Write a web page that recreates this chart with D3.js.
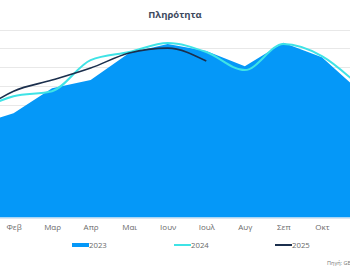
<!DOCTYPE html>
<html>
<head>
<meta charset="utf-8">
<script src="https://cdn.jsdelivr.net/npm/d3@7"></script>
<style>
  body { margin: 0; background: #fff; overflow: hidden; }
  svg { display: block; font-family: "Open Sans", "DejaVu Sans", sans-serif; }
</style>
</head>
<body>
<svg id="chart" width="350" height="274"></svg>
<script>
// months (chart is cropped: Ιαν, Νοε, Δεκ fall outside the window)
var months = ['Ιαν', 'Φεβ', 'Μαρ', 'Απρ', 'Μαι', 'Ιουν', 'Ιουλ', 'Αυγ', 'Σεπ', 'Οκτ', 'Νοε', 'Δεκ'];
// occupancy %
var occ2023 = [49.1, 55.5, 68.8, 73.1, 87.5, 92.3, 88.5, 80.5, 93.0, 85.3, 66.7, 46.4];
var occ2024 = [56.0, 64.5, 67.2, 83.7, 88.0, 92.8, 88.0, 78.4, 92.3, 85.9, 69.5, 49.0];
var occ2025 = [54.9, 67.2, 73.1, 79.5, 87.5, 90.1, 83.2];
var yTicks = [0, 10, 20, 30, 40, 50, 60, 70, 80, 90, 100];
var legendItems = ['2023', '2024', '2025'];

var svg = d3.select('#chart');
var colors = {'2023': '#0598f8', '2024': '#3fe3e6', '2025': '#1b2f4d'};

// month spacing ~38.5px, Φεβ sits at x=14
var x = d3.scalePoint().domain(months).range([-25, 399]);
var y = d3.scaleLinear().domain([0, 100]).range([217.5, 29.5]);

svg.append('text')
  .attr('x', 175).attr('y', 18)
  .attr('text-anchor', 'middle')
  .style('font-size', '9.5px').style('font-weight', 'bold')
  .style('fill', '#3e4a5e')
  .text('Πληρότητα');

// grid
svg.append('g').selectAll('line')
  .data(yTicks).enter().append('line')
  .attr('x1', 0).attr('x2', 350)
  .attr('y1', function(d) { return Math.round(y(d)) + 0.5; })
  .attr('y2', function(d) { return Math.round(y(d)) + 0.5; })
  .style('stroke', '#e8e8e8').style('stroke-width', 1);

var area = d3.area()
  .x(function(d, i) { return x(months[i]); })
  .y0(y(0))
  .y1(function(d) { return y(d); });

svg.append('path')
  .datum(occ2023)
  .attr('d', area)
  .style('fill', colors['2023']);

// baseline
svg.append('line')
  .attr('x1', 0).attr('x2', 350)
  .attr('y1', 218).attr('y2', 218)
  .style('stroke', '#cfe3f5').style('stroke-width', 1);

var line = d3.line()
  .x(function(d, i) { return x(months[i]); })
  .y(function(d) { return y(d); })
  .curve(d3.curveMonotoneX);

svg.append('path')
  .datum(occ2024)
  .attr('d', line)
  .style('fill', 'none').style('stroke', colors['2024']).style('stroke-width', 2);

svg.append('path')
  .datum(occ2025)
  .attr('d', line)
  .style('fill', 'none').style('stroke', colors['2025']).style('stroke-width', 1.6);

// x labels, only the ones that land inside the window
var xAxis = d3.axisBottom(x).tickSize(0).tickPadding(0)
  .tickValues(months.filter(function(m) { return x(m) > 0 && x(m) < 340; }));
var gx = svg.append('g').attr('transform', 'translate(0,224)').call(xAxis);
gx.select('.domain').remove();
gx.selectAll('text')
  .attr('dy', '0.71em')
  .style('font-size', '8px')
  .style('font-family', '"Open Sans", "DejaVu Sans", sans-serif')
  .style('fill', '#6a6a6a');

// legend
var lx = [72, 174, 275];
var lg = svg.append('g').selectAll('g')
  .data(legendItems).enter().append('g')
  .attr('transform', function(d, i) { return 'translate(' + lx[i] + ',245)'; });
lg.append('line')
  .attr('x1', 0).attr('x2', 17)
  .style('stroke', function(d) { return colors[d]; })
  .style('stroke-width', function(d, i) { return i == 0 ? 4 : 2; });
lg.append('text')
  .attr('x', 17).attr('y', 3)
  .style('font-size', '7.8px')
  .style('fill', '#6a6a6a')
  .text(function(d) { return d; });

svg.append('text')
  .attr('x', 327).attr('y', 265)
  .style('font-size', '5.5px')
  .style('fill', '#777')
  .text('Πηγή: GBR Consulting');
</script>
</body>
</html>
